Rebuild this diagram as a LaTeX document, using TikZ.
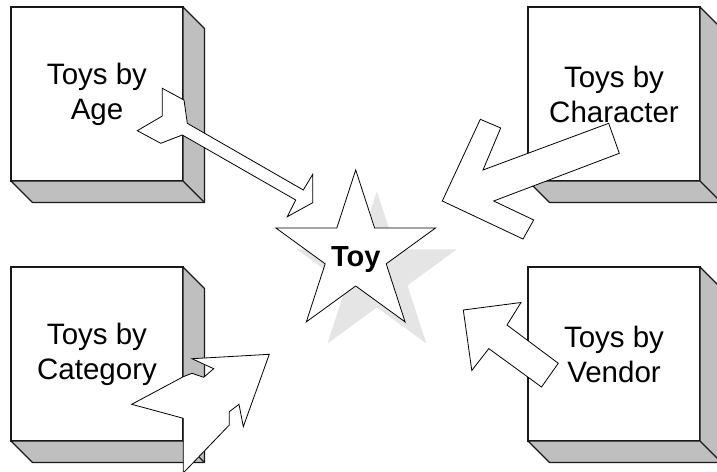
\documentclass[tikz,border=0pt]{standalone}
\usepackage{fontspec}
\setmainfont{Liberation Sans}
\usetikzlibrary{shapes.geometric}
\begin{document}
\begin{tikzpicture}[x=1pt,y=-1pt,
  front/.style={draw=black!90, fill=white, line width=1.1pt, minimum width=172pt,
    minimum height=174pt, inner sep=0pt, outer sep=0pt, align=center,
    font=\fontsize{29.5}{35}\selectfont, anchor=north west},
  side/.style={draw=black!90, fill=black!25, line width=1.1pt, line join=round},
  blockarrow/.style={draw=black, fill=white, line width=0.8pt, line join=miter},
  toystar/.style={star, star points=5, star point ratio=2.618, minimum size=168pt,
    inner sep=0pt, outer sep=0pt},
  toylabel/.style={font=\fontsize{29}{35}\selectfont\bfseries, inner sep=0pt}]
\useasboundingbox (0,0) rectangle (717,471);
\fill[white] (0,0) rectangle (717,471);

% boxes
\node[front] (age) at (11,7) {Toys by\\Age};
\node[front] (character) at (528,7) {Toys by\\Character};
\node[front] (category) at (11,267) {Toys by\\Category};
\node[front] (vendor) at (528,267) {Toys by\\Vendor};
\foreach \b in {age,character,category,vendor}{
  \draw[side] (\b.north east) -- ([shift={(21.5,21.5)}]\b.north east)
    -- ([shift={(21.5,21.5)}]\b.south east) -- ([shift={(21.5,21.5)}]\b.south west)
    -- (\b.south west) -- (\b.south east) -- cycle;
  \draw[side] (\b.south east) -- ([shift={(21.5,21.5)}]\b.south east);
}

% star
\node[toystar, fill=black!10] (toyshadow) at (376.9,275.4) {};
\node[toystar, draw=black, fill=white, line width=0.8pt] (toy) at (355.7,253.9) {};
\node[toylabel] (toytext) at ([yshift=-5.7]toy.center) {Toy};

% block arrows
\draw[blockarrow] (162.3,88.3) -- (184,100) -- (187.3,123.3) -- (303.3,190)
  -- (312.7,174.3) -- (312.7,202.7) -- (287.3,216.7) -- (295.7,200)
  -- (182.3,135) -- (160.7,143.3) -- (137.3,130.7) -- (162.3,116) -- cycle;
\draw[blockarrow] (480.3,119.3) -- (500.7,128) -- (483,170) -- (608.7,123.3)
  -- (619.3,153.3) -- (493.7,201) -- (533.7,220) -- (523,239) -- (442.3,201) -- cycle;
\draw[blockarrow] (269.3,354.3) -- (243.3,426.7) -- (239,404.3) -- (229.3,411.7)
  -- (229.3,425) -- (184.2,472) -- (183.3,472) -- (183.3,418.3) -- (131.7,404.3)
  -- (183.3,376.7) -- (192,373.3) -- (203.7,377.3) -- (213.7,368.7) -- (192,358.7) -- cycle;
\draw[blockarrow] (463.3,310) -- (521,302.5) -- (507,325) -- (558.3,363.3)
  -- (541.5,387) -- (488.8,348.6) -- (471.8,370.5) -- cycle;
\end{tikzpicture}
\end{document}
